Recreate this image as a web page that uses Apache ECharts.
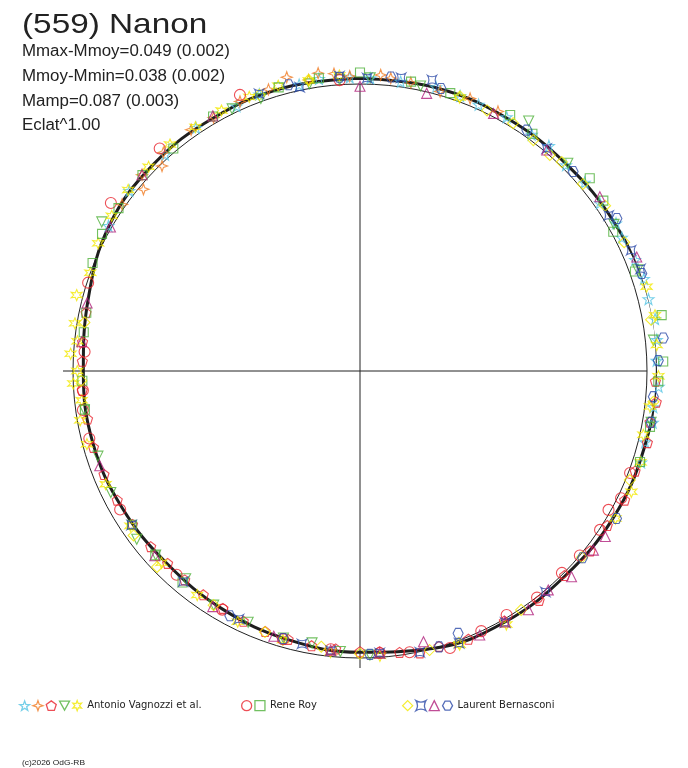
<!DOCTYPE html>
<html><head><meta charset="utf-8">
<script src="https://cdn.jsdelivr.net/npm/echarts@6/dist/echarts.min.js"></script>
<style>html,body{margin:0;padding:0;background:#fff}#c{width:688px;height:768px}</style>
</head><body><div id="c"></div>
<script>
// fitted light curve (rotational phase in degrees, relative radius; 1 = reference circle)
const curveAngle = [0,15,30,45,60,75,90,105,120,135,150,165,180,195,210,225,240,255,270,285,300,315,330,345,360];
const curveR = [1.020,1.022,1.019,1.018,1.026,1.038,1.036,1.026,1.020,1.010,1.010,1.000,0.980,0.969,0.958,0.950,0.956,0.964,0.964,0.980,1.010,1.018,1.019,1.022,1.020];

// observations: [phase deg, relative radius]
const cyanStar = [[300,1.012],[308,1.020],[318,1.015],[326,1.022],[335,1.018],[340,1.026],[348,1.020],[352,1.028],[358,1.024],[2,1.021],[8,1.018],[15,1.024],[20,1.020],[24,1.016],[30,1.022],[36,1.018],[40,1.024],[45,1.015],[50,1.022],[55,1.020],[60,1.030],[63,1.024],[68,1.034],[72,1.040],[76,1.036],[80,1.044],[84,1.040],[88,1.034],[93,1.042],[97,1.030],[100,1.036],[104,1.024],[108,1.030]];
const orangeStar = [[305,1.012],[310,0.985],[312,1.022],[316,0.993],[318,1.024],[325,1.026],[330,1.020],[336,1.028],[342,1.032],[346,1.055],[350,1.030],[352,1.048],[355,1.040],[358,1.028],[4,1.034],[6,1.026],[10,1.020],[16,1.013],[22,1.024],[28,1.024]];
const redPentagon = [[92,1.030],[96,1.038],[100,1.026],[104,1.032],[110,1.020],[116,1.026],[122,1.016],[128,1.018],[135,1.008],[142,1.014],[150,1.006],[158,1.008],[164,0.998],[168,1.004],[172,0.990],[176,0.980],[180,0.978],[185,0.972],[190,0.972],[195,0.968],[200,0.966],[205,0.962],[210,0.955],[215,0.952],[220,0.950],[225,0.948],[230,0.952],[236,0.956],[242,0.958],[248,0.962],[254,0.966],[260,0.964],[266,0.970],[272,0.968],[276,0.972],[282,0.976]];
const greenDownTri = [[178,0.990],[184,0.980],[190,0.962],[196,0.968],[204,0.958],[212,0.962],[220,0.945],[228,0.958],[233,0.974],[244,0.966],[252,0.960],[262,0.970],[300,1.039],[334,1.016],[340,1.010],[350,1.016],[356,1.018],[2,1.022],[12,1.015],[34,1.051],[45,1.024],[60,1.022],[70,1.030],[84,1.028],[100,1.030]];
const yellowStar = [[255,0.985],[260,0.990],[264,0.975],[267.5,1.000],[270,0.985],[273.4,1.010],[276,0.990],[279.5,1.007],[285,1.022],[290,1.000],[296,1.015],[302,1.020],[308,1.025],[314,1.024],[320,1.030],[326,1.025],[332,1.028],[338,1.030],[344,1.034],[350,1.028],[356,1.032],[20,1.014],[73.6,1.041],[79.3,1.046],[85,1.038],[91,1.040],[97,1.018],[102.7,1.012],[108,1.028],[114,1.035],[120,1.028],[150,1.020],[160,1.015],[176,0.995],[186,0.985],[196,0.975],[206,0.972],[216,0.965],[226,0.962],[236,0.965],[246,0.970]];
const redCircle = [[110.7,1.006],[116,1.012],[119.2,0.992],[123.5,1.003],[130,1.000],[135,0.995],[142,1.002],[149,0.992],[155,1.000],[162,1.015],[170,0.995],[176,0.985],[186,0.975],[196,0.972],[210,0.960],[222,0.955],[240,0.965],[256,0.972],[262,0.975],[266,0.968],[274,0.962],[288,0.996],[304,1.047],[318,1.043],[336.5,1.049],[356,1.016]];
const greenSquare = [[278,0.972],[282,0.975],[292,1.005],[298,1.018],[304,1.015],[312,1.020],[320,1.012],[330,1.024],[344,1.028],[352,1.030],[0,1.040],[10,1.024],[18,1.018],[30.4,1.034],[36,1.022],[50,1.045],[55,1.035],[61.2,1.007],[70.1,1.019],[79.5,1.069],[88.2,1.057],[92,1.040],[100.9,1.029],[108,1.026],[220,0.962],[228,0.960],[236,0.958],[262,0.968],[268,0.968]];
const yellowDiamond = [[20,1.018],[26,1.010],[31.7,1.015],[36.9,1.006],[41.3,1.002],[44,1.012],[50,1.014],[56,1.030],[64,1.024],[80,1.030],[96,1.028],[112,1.014],[130,1.010],[146,1.004],[160,1.008],[166,1.002],[180,0.985],[188,0.970],[200,0.968],[212,0.962],[226,0.983],[234,0.975],[268,0.972],[280,0.975],[340,1.024],[350,1.030]];
const blueAstroid = [[340,1.028],[348,1.011],[356,1.030],[1.4,1.021],[8,1.032],[13.9,1.045],[40,1.012],[58,1.022],[66,1.034],[70,1.040],[140,1.005],[150,1.012],[160,1.010],[168,1.002],[176,0.985],[186,0.980],[192,0.972],[206,0.962],[220,0.958],[236,0.960]];
const magentaTri = [[0,0.992],[13.5,0.995],[27.4,1.011],[40.2,1.008],[54,1.033],[67.6,1.043],[124,1.031],[127.5,1.025],[134.2,1.028],[139.3,1.006],[144.8,1.018],[150,1.010],[155.6,1.010],[166.8,0.969],[176,0.986],[186,0.978],[198,0.972],[212,0.968],[228,0.962],[250,0.965],[276,0.975],[284,0.980],[300,1.004],[312,1.022],[330,1.026]];
const blueHexagon = [[346,1.028],[356,1.026],[6,1.030],[16,1.024],[34.7,1.021],[46.9,1.017],[59.3,1.041],[70.9,1.039],[83.8,1.063],[88,1.040],[95,1.026],[100,1.030],[119.9,1.031],[130,1.012],[159.5,0.976],[164,1.000],[178,0.988],[196,0.970],[208,0.966]];

const titleText = '(559) Nanon';
const infoLines = ['Mmax-Mmoy=0.049 (0.002)','Mmoy-Mmin=0.038 (0.002)','Mamp=0.087 (0.003)','Eclat^1.00'];
const credit = '(c)2026 OdG-RB';

const P = {
  star5: 'path://M0,-10L2.35,-3.24L9.51,-3.09L3.8,1.24L5.88,8.09L0,4L-5.88,8.09L-3.8,1.24L-9.51,-3.09L-2.35,-3.24Z',
  star4: 'path://M0,-10L2.6,-2.6L10,0L2.6,2.6L0,10L-2.6,2.6L-10,0L-2.6,-2.6Z',
  pent: 'path://M0,-10L9.51,-3.09L5.88,8.09L-5.88,8.09L-9.51,-3.09Z',
  downTri: 'path://M-10,-9L10,-9L0,9Z',
  star6: 'path://M0,-10L2.3,-4L8.66,-5L4.6,0L8.66,5L2.3,4L0,10L-2.3,4L-8.66,5L-4.6,0L-8.66,-5L-2.3,-4Z',
  astroid: 'path://M-10,-10Q0,-4 10,-10Q4,0 10,10Q0,4 -10,10Q-4,0 -10,-10Z',
  hex: 'path://M-5,-9L5,-9L10,0L5,9L-5,9L-10,0Z'
};

function sc(name, data, symbol, color, size) {
  return {
    name: name, type: 'scatter', coordinateSystem: 'polar', polarIndex: 0, clip: false,
    symbol: symbol, symbolSize: size,
    itemStyle: { color: 'rgba(0,0,0,0)', borderColor: color, borderWidth: 1.1 },
    emphasis: { disabled: true }, z: 3,
    data: data.map(d => [d[1], d[0]])
  };
}

const series = [
  {
    type: 'line', coordinateSystem: 'polar', polarIndex: 0, clip: false, smooth: 0.4,
    showSymbol: false, lineStyle: { color: '#1e1e1e', width: 3 }, z: 2, silent: true,
    data: curveAngle.map((a, i) => [curveR[i], a])
  },
  sc('V1', cyanStar, P.star5, '#55c4e4', 11),
  sc('V2', orangeStar, P.star4, '#f07a22', 11),
  sc('V3', redPentagon, P.pent, '#e8222c', 10),
  sc('V4', greenDownTri, P.downTri, '#4fb03a', 10),
  sc('Antonio Vagnozzi et al.', yellowStar, P.star6, '#f2e800', 11),
  sc('R1', redCircle, 'circle', '#e8222c', 11),
  sc('Rene Roy', greenSquare, 'rect', '#4fb03a', 9),
  sc('B1', yellowDiamond, 'diamond', '#f2e800', 11),
  sc('B2', blueAstroid, P.astroid, '#2c4aa8', 9),
  sc('B3', magentaTri, 'triangle', '#b0207c', 10),
  sc('Laurent Bernasconi', blueHexagon, P.hex, '#2c4aa8', 10)
];

const labelNames = ['Antonio Vagnozzi et al.', 'Rene Roy', 'Laurent Bernasconi'];
function lg(left, names) {
  return {
    left: left, top: 700, padding: 0, orient: 'horizontal', itemWidth: 10, itemHeight: 10, itemGap: 2,
    selectedMode: false, data: names,
    itemStyle: { borderWidth: 1.3 },
    formatter: n => labelNames.indexOf(n) >= 0 ? n : '',
    textStyle: { fontFamily: 'DejaVu Sans', fontSize: 10, color: '#222' }
  };
}

const hideAxis = { axisLine: { show: false }, axisTick: { show: false }, axisLabel: { show: false }, splitLine: { show: false } };

const chart = echarts.init(document.getElementById('c'), null, { renderer: 'canvas' });
chart.setOption({
  backgroundColor: '#fff',
  animation: false,
  polar: [
    { center: [360, 371], radius: 297 },
    { center: [360, 371], radius: 287 }
  ],
  angleAxis: [
    Object.assign({}, hideAxis, { polarIndex: 0, type: 'value', min: 0, max: 360, interval: 90, startAngle: 90, clockwise: true,
      splitLine: { show: true, lineStyle: { color: ['rgba(0,0,0,0)', 'rgba(0,0,0,0)', '#222', '#222', 'rgba(0,0,0,0)'], width: 1 } } }),
    Object.assign({}, hideAxis, { polarIndex: 1, type: 'value', min: 0, max: 360, interval: 90, startAngle: 90, clockwise: true,
      axisLine: { show: true, lineStyle: { color: '#222', width: 1 } },
      splitLine: { show: true, lineStyle: { color: ['#222', '#222', 'rgba(0,0,0,0)', 'rgba(0,0,0,0)', '#222'], width: 1 } } })
  ],
  radiusAxis: [
    Object.assign({}, hideAxis, { polarIndex: 0, type: 'value', min: 0, max: 297 / 287 }),
    Object.assign({}, hideAxis, { polarIndex: 1, type: 'value', min: 0, max: 1 })
  ],
  legend: [
    lg(19, ['V1', 'V2', 'V3', 'V4', 'Antonio Vagnozzi et al.']),
    lg(241, ['R1', 'Rene Roy']),
    lg(402, ['B1', 'B2', 'B3', 'Laurent Bernasconi'])
  ],
  graphic: [
    { type: 'text', x: 22, y: 25, scaleX: 1.19, silent: true, style: { text: titleText, font: '28px "Liberation Sans"', fill: '#222', textVerticalAlign: 'middle', verticalAlign: 'middle' } },
    { type: 'text', x: 22, y: 52, scaleX: 1.055, silent: true, style: { text: infoLines[0], font: '16px "Liberation Sans"', fill: '#222', textVerticalAlign: 'middle', verticalAlign: 'middle' } },
    { type: 'text', x: 22, y: 77, scaleX: 1.055, silent: true, style: { text: infoLines[1], font: '16px "Liberation Sans"', fill: '#222', textVerticalAlign: 'middle', verticalAlign: 'middle' } },
    { type: 'text', x: 22, y: 102, scaleX: 1.055, silent: true, style: { text: infoLines[2], font: '16px "Liberation Sans"', fill: '#222', textVerticalAlign: 'middle', verticalAlign: 'middle' } },
    { type: 'text', x: 22, y: 126, scaleX: 1.055, silent: true, style: { text: infoLines[3], font: '16px "Liberation Sans"', fill: '#222', textVerticalAlign: 'middle', verticalAlign: 'middle' } },
    { type: 'text', x: 22, y: 763, scaleX: 1.12, silent: true, style: { text: credit, font: '7.5px "Liberation Sans"', fill: '#222', textVerticalAlign: 'middle', verticalAlign: 'middle' } }
  ],
  series: series
});
</script></body></html>
